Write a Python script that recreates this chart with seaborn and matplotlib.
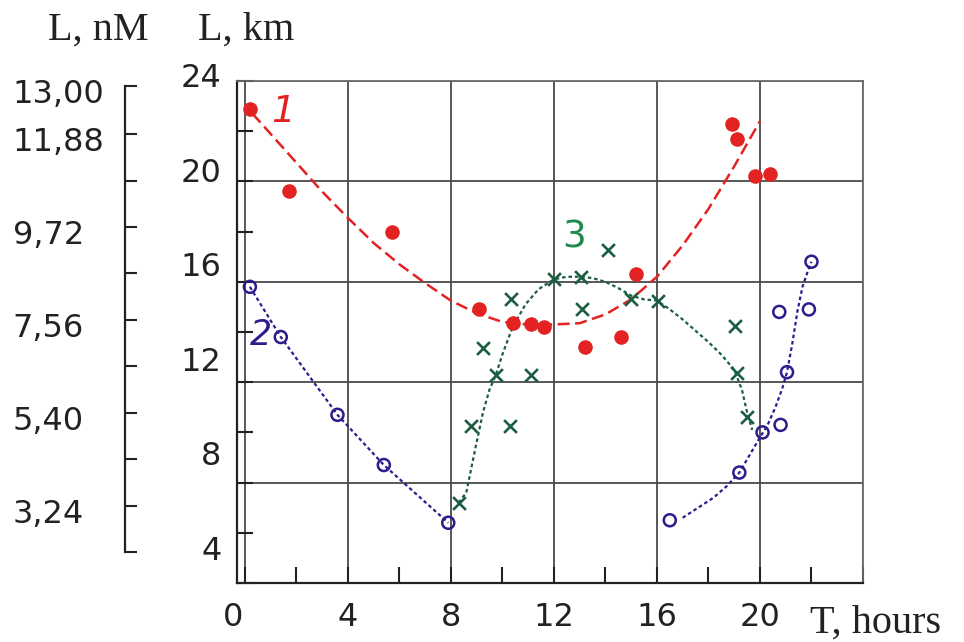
import numpy as np
import pandas as pd
import matplotlib
matplotlib.use("Agg")
import matplotlib.pyplot as plt
import matplotlib.transforms as mtransforms
import seaborn as sns

# curve 1 - red points and dashed fit
red_x = [0.2, 1.7, 5.7, 9.1, 10.4, 11.1, 11.6, 13.2, 14.6, 15.2, 18.9, 19.1, 19.8, 20.4]
red_y = [22.9, 19.6, 18.0, 14.9, 14.35, 14.3, 14.2, 13.4, 13.8, 16.3, 22.3, 21.7, 20.2, 20.3]
red_fit_x = [0.3, 1.0, 2.0, 3.0, 4.0, 5.0, 6.0, 7.0, 8.0, 9.0, 10.0, 11.0, 12.0, 13.0,
             14.0, 15.0, 16.0, 17.0, 18.0, 19.0, 20.0]
red_fit_y = [22.7, 21.9, 20.75, 19.6, 18.55, 17.55, 16.7, 15.95, 15.25, 14.75, 14.4, 14.3, 14.3, 14.35,
             14.7, 15.3, 16.2, 17.45, 18.9, 20.6, 22.4]

# curve 2 - navy open circles, two dotted segments
navy_x = [0.2, 1.4, 3.6, 5.4, 7.9, 16.5, 19.2, 20.1, 20.8, 21.05, 20.75, 21.9, 22.0]
navy_y = [15.8, 13.8, 10.7, 8.7, 6.4, 6.5, 8.4, 10.0, 10.3, 12.4, 14.8, 14.9, 16.8]
navy_fit1_x = [0.2, 1.4, 3.6, 5.4, 7.9]
navy_fit1_y = [15.8, 13.8, 10.7, 8.7, 6.4]
navy_fit2_x = [17.0, 17.6, 18.2, 18.7, 19.2, 19.6, 20.0, 20.3, 20.6, 20.85, 21.05, 21.25, 21.45, 21.65, 21.85, 22.0]
navy_fit2_y = [6.6, 7.0, 7.4, 7.85, 8.4, 9.1, 9.8, 10.3, 11.0, 11.7, 12.4, 13.5, 14.8, 15.8, 16.4, 16.8]

# curve 3 - green crosses and dotted fit
green_x = [8.3, 8.8, 9.25, 9.75, 10.3, 10.35, 11.1, 12.0, 13.05, 13.1, 14.1, 15.0, 16.05, 19.05, 19.1, 19.5]
green_y = [7.2, 10.25, 13.35, 12.3, 10.25, 15.3, 12.3, 16.1, 16.2, 14.9, 17.25, 15.3, 15.25, 14.25, 12.35, 10.6]
green_fit_x = [8.3, 8.6, 8.8, 9.0, 9.25, 9.5, 9.75, 10.0, 10.4, 10.9, 11.4, 12.0, 12.5, 13.0, 13.5, 14.0,
               14.5, 15.0, 15.5, 16.0, 16.5, 17.0, 17.5, 18.0, 18.5, 19.0, 19.3, 19.5, 19.7]
green_fit_y = [7.2, 7.6, 8.6, 9.6, 10.8, 11.7, 12.3, 13.1, 14.2, 15.1, 15.7, 16.1, 16.2, 16.2, 16.15, 16.0,
               15.75, 15.45, 15.3, 15.25, 14.9, 14.5, 14.05, 13.6, 13.1, 12.5, 11.7, 10.8, 10.1]

# axis ticks
x_major = [0, 4, 8, 12, 16, 20, 24]
x_major_labels = ['0', '4', '8', '12', '16', '20', '']
x_minor = [2, 6, 10, 14, 18, 22]
y_major = [4, 8, 12, 16, 20, 24]
y_minor = [6, 10, 14, 18, 22]
nm_ticks = [2.16, 3.24, 4.32, 5.40, 6.48, 7.56, 8.64, 9.72, 10.80, 11.88, 13.00]
nm_labels = ['', '3,24', '', '5,40', '', '7,56', '', '9,72', '', '11,88', '13,00']

RED = '#e32222'
NAVY = '#2b1d8c'
GREEN = '#1b5e42'
GREEN_TXT = '#1f8a4c'
INK = '#222222'


def main():
    sns.set_theme(style='white')
    plt.rcParams['font.family'] = ['DejaVu Sans']

    fig = plt.figure(figsize=(9.64, 6.42), dpi=100)
    W, H = 964, 642
    ax = fig.add_axes([237 / W, 1 - 583 / H, (863 - 237) / W, (583 - 81) / H])

    # fitted curves
    dash = (0, (4.8, 2.2))
    dots = (0, (1.6, 1.3))
    sns.lineplot(ax=ax, x=red_fit_x, y=red_fit_y, sort=False, estimator=None,
                 color=RED, lw=1.8, linestyle=dash)
    sns.lineplot(ax=ax, x=navy_fit1_x, y=navy_fit1_y, sort=False, estimator=None,
                 color=NAVY, lw=1.6, linestyle=dots)
    sns.lineplot(ax=ax, x=navy_fit2_x, y=navy_fit2_y, sort=False, estimator=None,
                 color=NAVY, lw=1.6, linestyle=dots)
    sns.lineplot(ax=ax, x=green_fit_x, y=green_fit_y, sort=False, estimator=None,
                 color=GREEN, lw=1.6, linestyle=dots)

    # points
    sns.scatterplot(ax=ax, x=red_x, y=red_y, color=RED, s=110, linewidth=0, zorder=4)
    sns.scatterplot(ax=ax, x=navy_x, y=navy_y, marker='o', s=75,
                    facecolors='none', edgecolors=NAVY, linewidth=1.8, zorder=4)
    sns.scatterplot(ax=ax, x=green_x, y=green_y, marker='x', s=85,
                    color=GREEN, linewidth=1.9, zorder=4)

    # curve numbers
    ax.text(1.5, 22.75, '1', color=RED, fontsize=27, style='italic', ha='center', va='center')
    ax.text(0.62, 13.9, '2', color=NAVY, fontsize=25, style='italic', ha='center', va='center')
    ax.text(12.8, 17.75, '3', color=GREEN_TXT, fontsize=27, ha='center', va='center')

    ax.set_xlim(-0.3, 24)
    ax.set_ylim(4, 24)
    ax.set_xticks(x_major)
    ax.set_xticklabels(x_major_labels)
    ax.set_xticks(x_minor, minor=True)
    ax.set_yticks(y_major)
    ax.set_yticks(y_minor, minor=True)
    ax.grid(True, which='major', color='#4a4a4a', lw=1.3)
    ax.set_axisbelow(True)
    ax.tick_params(which='both', direction='in', length=11.5, width=1.5, color=INK,
                   top=False, right=False, bottom=True, left=True)
    ax.tick_params(axis='x', which='major', labelsize=23, pad=14, labelcolor=INK)
    ax.tick_params(axis='y', which='major', labelsize=23, pad=11, labelcolor=INK)
    for side in ['left', 'bottom']:
        ax.spines[side].set_color(INK)
        ax.spines[side].set_linewidth(1.6)
    for side in ['top', 'right']:
        ax.spines[side].set_color('#6a6a6a')
        ax.spines[side].set_linewidth(1.3)

    # second concentration scale
    ax2 = fig.add_axes([125 / W, 1 - 552 / H, 0.02, (552 - 86) / H])
    ax2.set_ylim(2.16, 13.0)
    ax2.set_yticks(nm_ticks)
    ax2.set_yticklabels(nm_labels, ha='left')
    ax2.set_xticks([])
    ax2.patch.set_visible(False)
    for side in ['top', 'right', 'bottom']:
        ax2.spines[side].set_visible(False)
    ax2.spines['left'].set_color(INK)
    ax2.spines['left'].set_linewidth(1.6)
    ax2.tick_params(axis='y', direction='in', length=8.6, width=1.5, color=INK, left=True,
                    labelsize=23, pad=81, labelcolor=INK)

    # hand-set label placement of the original figure
    for lab in ax.get_yticklabels():
        v = lab.get_position()[1]
        shift = (6 + (24 - v) * 1.45) / 100
        lab.set_transform(lab.get_transform() + mtransforms.ScaledTranslation(0, shift, fig.dpi_scale_trans))
    zero = ax.get_xticklabels()[0]
    zero.set_transform(zero.get_transform() + mtransforms.ScaledTranslation(-0.12, 0, fig.dpi_scale_trans))
    for lab in ax2.get_yticklabels():
        lab.set_transform(lab.get_transform() + mtransforms.ScaledTranslation(0, -0.05, fig.dpi_scale_trans))

    # axis titles
    serif = ['Liberation Serif', 'DejaVu Serif']
    fig.text(48 / W, 1 - 40 / H, 'L, nM', family=serif, fontsize=29, va='baseline', ha='left', color=INK)
    fig.text(198 / W, 1 - 40 / H, 'L, km', family=serif, fontsize=29, va='baseline', ha='left', color=INK)
    fig.text(810 / W, 1 - 633 / H, 'T, hours', family=serif, fontsize=29, va='baseline', ha='left', color=INK)

    fig.savefig('out.png', dpi=100)


if __name__ == "__main__":
    main()
